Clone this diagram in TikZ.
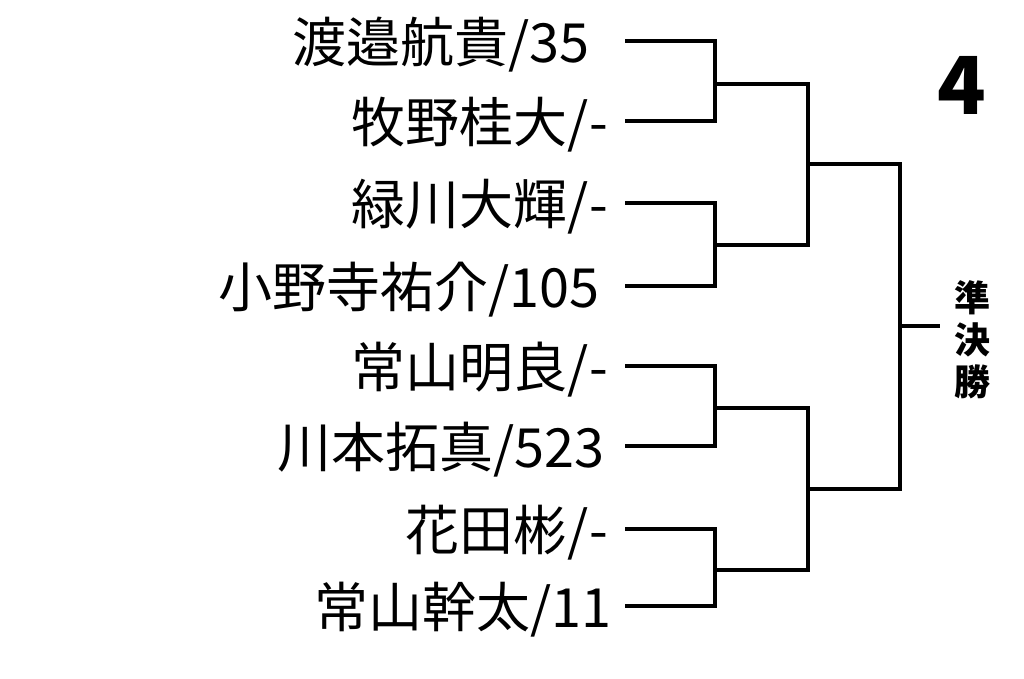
\documentclass[tikz,border=0pt]{standalone}
\usepackage{fontspec}
\setmainfont{Noto Sans CJK JP}
\begin{document}
\begin{tikzpicture}[x=1pt,y=-1pt,
  nm/.style={anchor=east,font=\fontsize{54}{60}\selectfont,inner sep=0pt},
  br/.style={line width=3.5pt}]
\useasboundingbox (0,0) rectangle (1024,679);
\fill[white] (0,0) rectangle (1024,679);
\node[nm] (a) at (590,45) {渡邉航貴/35};
\node[nm] (b) at (608,125) {牧野桂大/-};
\node[nm] (c) at (608,207) {緑川大輝/-};
\node[nm] (d) at (600,290) {小野寺祐介/105};
\node[nm] (e) at (608,370) {常山明良/-};
\node[nm] (f) at (605,450) {川本拓真/523};
\node[nm] (g) at (608,533) {花田彬/-};
\node[nm] (h) at (612,610) {常山幹太/11};
\coordinate (a0) at (625,41); \coordinate (b0) at (625,121);
\coordinate (c0) at (625,203); \coordinate (d0) at (625,286);
\coordinate (e0) at (625,366); \coordinate (f0) at (625,446);
\coordinate (g0) at (625,529); \coordinate (h0) at (625,606);
\coordinate (ab) at (715,84); \coordinate (cd) at (715,245);
\coordinate (ef) at (715,408); \coordinate (gh) at (715,570);
\coordinate (abcd) at (808,164); \coordinate (efgh) at (808,489);
\coordinate (fin) at (900,326); \coordinate (end) at (940,326);
\draw[br] (a0) -| (ab) |- (b0);
\draw[br] (c0) -| (cd) |- (d0);
\draw[br] (e0) -| (ef) |- (f0);
\draw[br] (g0) -| (gh) |- (h0);
\draw[br] (ab) -| (abcd) |- (cd);
\draw[br] (ef) -| (efgh) |- (gh);
\draw[br] (abcd) -| (fin) |- (efgh);
\draw[br] (fin) -- (end);
\node[font=\fontsize{36}{42}\selectfont\bfseries,align=center,inner sep=0pt] (sf) at (972,340) {準\\決\\勝};
\node[font=\fontsize{80}{84}\selectfont\bfseries,inner sep=0pt] (four) at (962,85) {4};
\end{tikzpicture}
\end{document}
